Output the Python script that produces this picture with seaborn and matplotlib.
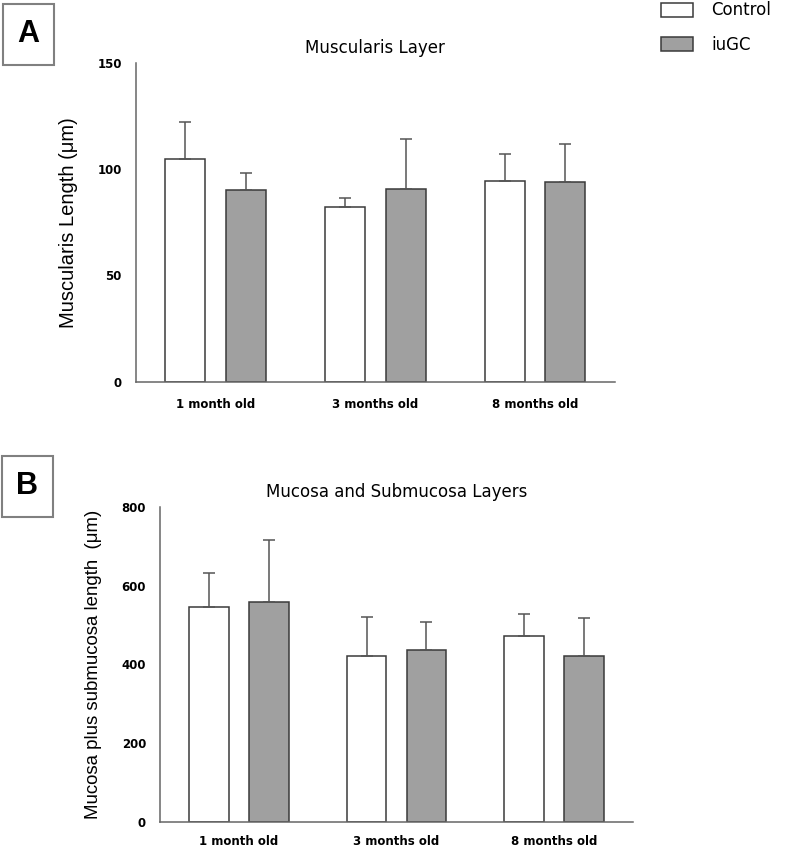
import numpy as np
import pandas as pd
import seaborn as sns
import matplotlib.pyplot as plt
from matplotlib.patches import Rectangle

# %%
ages = ['1 month old', '3 months old', '8 months old']
groups = ['Control', 'iuGC']

# Muscularis layer (µm)
musc_control = [104.8, 82.3, 94.2]
musc_iugc = [90.1, 90.4, 93.9]
musc_control_err = [17.4, 4.1, 12.7]
musc_iugc_err = [7.9, 23.7, 17.7]

# Mucosa + submucosa (µm)
muco_control = [545, 421, 473]
muco_iugc = [559, 437, 421]
muco_control_err = [88, 100, 56]
muco_iugc_err = [156, 71, 96]

# %%
sns.set_theme(style='white')
plt.rcParams['font.family'] = ['Liberation Sans', 'DejaVu Sans']
plt.rcParams['text.color'] = 'black'
plt.rcParams['axes.labelcolor'] = 'black'
plt.rcParams['xtick.labelcolor'] = 'black'
plt.rcParams['ytick.labelcolor'] = 'black'

bar_colors = {'Control': '#ffffff', 'iuGC': '#a0a0a0'}
axis_col = '#666666'
wide_font = 'DejaVu Sans'


def make_df(ctrl, iugc, ctrl_err, iugc_err):
    df = pd.DataFrame({
        'Age': ages * 2,
        'Group': ['Control'] * 3 + ['iuGC'] * 3,
        'Value': ctrl + iugc,
        'Err': ctrl_err + iugc_err,
    })
    return df


def draw_panel(ax, df, ymax, yticks, title, ylabel, ylab_size, xpad):
    sns.barplot(data=df, x='Age', y='Value', hue='Group', hue_order=groups,
                palette=bar_colors, width=0.76, gap=0.34, edgecolor='#3a3a3a',
                linewidth=1.1, errorbar=None, legend=False, ax=ax)
    # error bars: upper side only
    for cont, grp in zip(ax.containers, groups):
        sub = df[df['Group'] == grp]
        xs = [p.get_x() + p.get_width() / 2 for p in cont.patches]
        ys = sub['Value'].values
        err = sub['Err'].values
        ax.errorbar(xs, ys, yerr=[np.zeros(len(err)), err], fmt='none',
                    ecolor='#555555', elinewidth=1.1, capsize=4, capthick=1.1,
                    zorder=1)
    ax.set_xlim(-0.5, 2.5)
    ax.set_ylim(0, ymax)
    ax.set_yticks(yticks)
    ax.set_xlabel('')
    ax.set_ylabel(ylabel, fontsize=ylab_size, labelpad=14, color='black')
    ax.set_title(title, fontsize=12, pad=7, family=wide_font, color='black')
    sns.despine(ax=ax)
    for s in ['left', 'bottom']:
        ax.spines[s].set_color(axis_col)
        ax.spines[s].set_linewidth(1.1)
    ax.tick_params(axis='both', direction='out', length=6, width=1,
                   color=axis_col, labelcolor='black', labelsize=8.5, pad=4)
    ax.tick_params(axis='x', pad=xpad)
    for lab in ax.get_xticklabels() + ax.get_yticklabels():
        lab.set_fontweight('bold')
        lab.set_family(wide_font)


# %%
fig = plt.figure(figsize=(7.87, 8.5), dpi=100)
ax_a = fig.add_axes([0.1724, 0.5509, 0.609, 0.3753])
ax_b = fig.add_axes([0.2033, 0.0326, 0.601, 0.3713])

df_a = make_df(musc_control, musc_iugc, musc_control_err, musc_iugc_err)
df_b = make_df(muco_control, muco_iugc, muco_control_err, muco_iugc_err)

draw_panel(ax_a, df_a, 150, [0, 50, 100, 150], 'Muscularis Layer',
           'Muscularis Length (μm)', 14.5, 6)
draw_panel(ax_b, df_b, 800, [0, 200, 400, 600, 800], 'Mucosa and Submucosa Layers',
           'Mucosa plus submucosa length  (μm)', 13.4, 3)

# panel letters in boxes
for letter, (x0, y0) in zip(['A', 'B'], [(3, 4), (2, 456)]):
    w, h = 51, 61
    fig.patches.append(Rectangle((x0 / 787, 1 - (y0 + h) / 850), w / 787, h / 850,
                                 transform=fig.transFigure, fill=False,
                                 edgecolor='#808080', linewidth=1.5))
    fig.text((x0 + w / 2) / 787, 1 - (y0 + h / 2) / 850, letter, fontsize=22,
             fontweight='bold', ha='center', va='center', color='black')

# legend
handles = [Rectangle((0, 0), 1, 1, facecolor=bar_colors[g], edgecolor='#3a3a3a',
                     linewidth=1.1) for g in groups]
fig.legend(handles, groups, loc='upper left', bbox_to_anchor=(646 / 787, 1.016),
           frameon=False, prop={'family': wide_font, 'size': 12},
           labelcolor='black', handlelength=1.9, handleheight=0.9,
           handletextpad=1.1, labelspacing=1.0)

fig.savefig('out.png', dpi=100)
